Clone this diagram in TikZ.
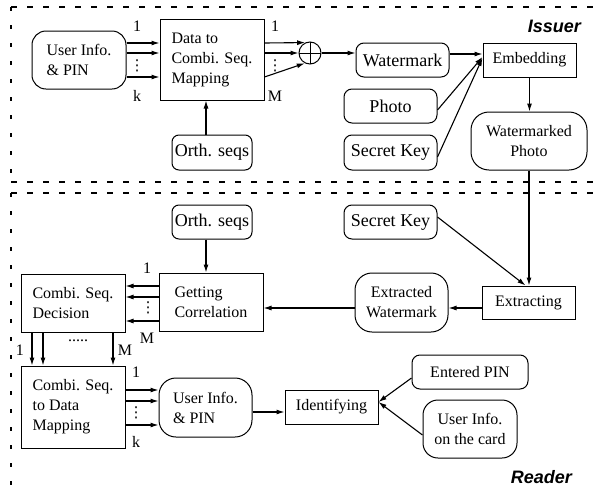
\documentclass[tikz,border=0pt]{standalone}
\usepackage{fontspec}
\setmainfont{Liberation Serif}
\newfontfamily\lsans{Liberation Sans}
\newfontfamily\dvs{DejaVu Sans}
\usetikzlibrary{arrows.meta,calc}
\newcommand{\fs}{\fontsize{16}{20}\selectfont}
\newcommand{\fl}{\fontsize{18}{22}\selectfont}
\begin{document}
\begin{tikzpicture}[x=1pt,y=-1pt,
  box/.style={draw, line width=1pt, font=\fs, inner sep=1pt, align=center},
  rnd/.style={box, rounded corners=#1}, rnd/.default=8pt,
  sz/.style 2 args={minimum width=#1pt, minimum height=#2pt},
  arr/.style={line width=1.1pt, -{Latex[length=8pt,width=5pt]}},
  lab/.style={font=\fs, inner sep=0pt},
  vdt/.style={font={\dvs\fontsize{15}{15}\selectfont}, inner sep=0pt},
  hd/.style={line width=1.1pt, dash pattern=on 6pt off 10pt},
  vd/.style={line width=1.1pt, dash pattern=on 4pt off 14pt},
  ttl/.style={font={\lsans\bfseries\itshape\fontsize{18}{20}\selectfont}, inner sep=0pt, anchor=base east}]
\useasboundingbox (0,0) rectangle (595,493);

% frames
\draw[hd] (11,7) -- (595,7);
\draw[vd] (11,7) -- (11,182);
\draw[hd] (11,182) -- (595,182);
\draw[hd] (11,193) -- (595,193);
\draw[vd] (11,193) -- (11,493);
\node[ttl] (iss) at (581,32) {Issuer};
\node[ttl] (rdr) at (572,483) {Reader};

% Issuer nodes
\node[rnd=14pt, sz={94}{58}, align=left] (ui1) at (79,60) {User Info.\\\& PIN};
\node[box, sz={104}{81}, align=left] (map1) at (212,59.5) {Data to\\Combi. Seq.\\Mapping};
\node[rnd=7pt, sz={80}{35}, font=\fl] (orth1) at (212,152.5) {Orth. seqs};
\node[circle, draw, line width=1pt, minimum size=22pt, inner sep=0pt,
  path picture={\draw[line width=1pt] (path picture bounding box.north) -- (path picture bounding box.south)
  (path picture bounding box.west) -- (path picture bounding box.east);}] (xor) at (310,53) {};
\node[rnd, sz={93}{34}, font=\fl] (wm) at (402.5,60) {Watermark};
\node[box, sz={93}{34}] (emb) at (529.5,60) {Embedding};
\node[rnd, sz={93}{34}, font=\fl] (photo) at (390.5,106) {Photo};
\node[rnd, sz={93}{35}, font=\fl] (sk1) at (390.5,152.5) {Secret Key};
\node[rnd=18pt, sz={116}{58}] (wmp) at (529,141) {Watermarked\\Photo};

% Reader nodes
\node[rnd, sz={93}{34}, font=\fl] (sk2) at (390.5,222) {Secret Key};
\node[rnd=7pt, sz={80}{34}, font=\fl] (orth2) at (212,222) {Orth. seqs};
\node[box, sz={104}{58}, align=left] (gc) at (211,302) {Getting\\Correlation};
\node[rnd=17pt, sz={93}{59}] (ew) at (401.5,302.5) {Extracted\\Watermark};
\node[box, sz={93}{33}] (ext) at (528.5,302.5) {Extracting};
\node[box, sz={104}{58}, align=left] (dec) at (73,303) {Combi. Seq.\\Decision};
\node[box, sz={104}{82}, align=left] (map2) at (73,407) {Combi. Seq.\\to Data\\Mapping};
\node[rnd=17pt, sz={93}{59}, align=left] (ui2) at (205.5,407.5) {User Info.\\\& PIN};
\node[box, sz={93}{34}] (idf) at (331.5,407) {Identifying};
\node[rnd, sz={116}{34}] (pin) at (470,372) {Entered PIN};
\node[rnd=15pt, sz={94}{58}] (card) at (470,429) {User Info.\\on the card};

% labels
\node[lab] (l1) at (137,26) {1};
\node[lab] (l2) at (137,96) {k};
\node[vdt] (l3) at (137,66) {⋮};
\node[lab] (l4) at (275,26) {1};
\node[lab] (l5) at (275,96) {M};
\node[vdt] (l6) at (275,66) {⋮};
\node[lab] (l7) at (147,268) {1};
\node[lab] (l8) at (147,338) {M};
\node[vdt] (l9) at (148,308) {⋮};
\node[lab] (l10) at (20,350) {1};
\node[lab] (l11) at (125,350) {M};
\node[lab] (l12) at (78,341) {.....};
\node[lab] (l13) at (136,372) {1};
\node[lab] (l14) at (136,442) {k};
\node[vdt] (l15) at (136,413) {⋮};

% Issuer arrows
\draw[arr] ([yshift=17pt]ui1.east) -- ([yshift=17pt]ui1.east -| map1.west);
\draw[arr] ([yshift=7pt]ui1.east) -- ([yshift=7pt]ui1.east -| map1.west);
\draw[arr] ([yshift=-17pt]ui1.east) -- ([yshift=-17pt]ui1.east -| map1.west);
\draw[arr] ([xshift=-6pt]orth1.north) -- ([xshift=-6pt]orth1.north |- map1.south);
\draw[arr] ([yshift=16.5pt]map1.east) -- (xor.115);
\draw[arr] ([yshift=6.5pt]map1.east) -- (xor.west);
\draw[arr] ([yshift=-17.5pt]map1.east) -- (xor.243);
\draw[arr] (xor.east) -- (xor.east -| wm.west);
\draw[arr] ([yshift=6pt]wm.east) -- ([yshift=6pt]wm.east -| emb.west);
\draw[arr] ([yshift=-4pt]photo.east) -- ([yshift=3pt]emb.west);
\draw[arr] ([yshift=-4.5pt]sk1.east) -- ([yshift=2pt]emb.west);
\draw[arr] (emb.south) -- (emb.south |- wmp.north);

% Reader arrows
\draw[arr] (wmp.south) -- (wmp.south |- ext.north);
\draw[arr] ([yshift=5pt]sk2.east) -- ([xshift=-3pt]ext.north);
\draw[arr] ([yshift=-5.5pt]ext.west) -- ([yshift=-5.5pt]ext.west -| ew.east);
\draw[arr] ([yshift=-5.5pt]ew.west) -- ([yshift=-5.5pt]ew.west -| gc.east);
\draw[arr] ([xshift=-6pt]orth2.south) -- ([xshift=-6pt]orth2.south |- gc.north);
\draw[arr] ([yshift=16pt]gc.west) -- ([yshift=16pt]gc.west -| dec.east);
\draw[arr] ([yshift=5pt]gc.west) -- ([yshift=5pt]gc.west -| dec.east);
\draw[arr] ([yshift=-19pt]gc.west) -- ([yshift=-19pt]gc.west -| dec.east);
\draw[arr] ([xshift=-41pt]dec.south) -- ([xshift=-41pt]dec.south |- map2.north);
\draw[arr] ([xshift=-30pt]dec.south) -- ([xshift=-30pt]dec.south |- map2.north);
\draw[arr] ([xshift=40pt]dec.south) -- ([xshift=40pt]dec.south |- map2.north);
\draw[arr] ([yshift=17pt]map2.east) -- ([yshift=17pt]map2.east -| ui2.west);
\draw[arr] ([yshift=6pt]map2.east) -- ([yshift=6pt]map2.east -| ui2.west);
\draw[arr] ([yshift=-18pt]map2.east) -- ([yshift=-18pt]map2.east -| ui2.west);
\draw[arr] ([yshift=-4.5pt]ui2.east) -- ([yshift=-4.5pt]ui2.east -| idf.west);
\draw[arr] ([yshift=-6pt]pin.west) -- ([yshift=5pt]idf.east);
\draw[arr] ([yshift=-6pt]card.west) -- ([yshift=5pt]idf.east);
\end{tikzpicture}
\end{document}
